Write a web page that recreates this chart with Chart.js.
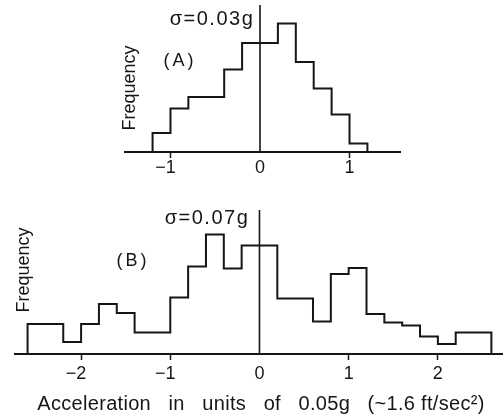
<!DOCTYPE html>
<html><head><meta charset="utf-8">
<script src="https://cdn.jsdelivr.net/npm/chart.js@4"></script>
<style>
html,body{margin:0;padding:0;background:#fff;}
#wrap{position:relative;width:504px;height:418px;overflow:hidden;}
.box{position:absolute;left:0;width:504px;}
</style></head><body>
<div id="wrap">
<div class="box" style="top:0;height:190px"><canvas id="a" width="504" height="190"></canvas></div>
<div class="box" style="top:190px;height:228px"><canvas id="b" width="504" height="228"></canvas></div>
</div>
<script>
// ---- data (acceleration in units of 0.05g; frequency in arbitrary units) ----
const binEdgesA = [-1.2, -1.0, -0.8, -0.6, -0.4, -0.2, 0.0, 0.2, 0.4, 0.6, 0.8, 1.0, 1.2];
const freqA = [3.8, 8.7, 11, 11, 16.5, 21.8, 21.8, 25.7, 18, 12.7, 7.5, 1.7];

const binEdgesB = [-2.6, -2.4, -2.2, -2.0, -1.8, -1.6, -1.4, -1.2, -1.0, -0.8, -0.6, -0.4, -0.2,
                   0.0, 0.2, 0.4, 0.6, 0.8, 1.0, 1.2, 1.4, 1.6, 1.8, 2.0, 2.2, 2.4, 2.6];
const freqB = [6, 6, 2.4, 6, 10, 8.2, 4.3, 4.3, 11.3, 17.5, 23.9, 17.1, 21.7,
               21.7, 11.1, 11.1, 6.5, 16, 17.2, 8, 6.3, 5.7, 3.5, 2, 4.3, 4.3];

const ticksA = [-1, 0, 1];
const ticksB = [-2, -1, 0, 1, 2];

const sigmaA = 'σ=0.03g';
const sigmaB = 'σ=0.07g';
const panelA = '(A)';
const panelB = '(B)';
const yLabel = 'Frequency';
const xLabel = 'Acceleration   in   units   of   0.05g   (~1.6 ft/sec²)';

// ---- drawing ----
const INK = '#161616';
const SANS = 'Liberation Sans';

function stepPoints(edges, vals) {
  const pts = [{x: edges[0], y: 0}];
  vals.forEach((v, i) => pts.push({x: edges[i], y: v}));
  pts.push({x: edges[edges.length - 1], y: 0});
  return pts;
}

function textPlugin(items) {
  return {
    id: 'labels',
    afterDraw(chart) {
      const c = chart.ctx;
      c.save();
      c.fillStyle = INK;
      c.textAlign = 'center';
      c.textBaseline = 'middle';
      for (const t of items) {
        c.font = t.size + 'px "' + SANS + '"';
        c.letterSpacing = (t.ls || 0) + 'px';
        c.save();
        c.translate(t.x, t.y);
        if (t.rot) c.rotate(t.rot);
        c.fillText(t.text, 0, 0);
        c.restore();
      }
      c.restore();
    }
  };
}

function makeChart(id, edges, vals, tickVals, xmin, xmax, ymax, pad, xHeight, tickPad, items) {
  return new Chart(document.getElementById(id), {
    type: 'line',
    data: {
      datasets: [
        {data: stepPoints(edges, vals), stepped: 'before', borderColor: INK, borderWidth: 2,
         pointRadius: 0, fill: false, tension: 0},
        {data: [{x: 0, y: 0}, {x: 0, y: ymax}], borderColor: INK, borderWidth: 1.6,
         pointRadius: 0, fill: false}
      ]
    },
    options: {
      responsive: false,
      animation: false,
      devicePixelRatio: 1,
      layout: {padding: pad},
      plugins: {legend: {display: false}, tooltip: {enabled: false}},
      scales: {
        x: {
          type: 'linear', min: xmin, max: xmax,
          afterBuildTicks: s => { s.ticks = tickVals.map(v => ({value: v})); },
          afterFit: s => { s.height = xHeight; },
          border: {color: INK, width: 2},
          grid: {drawOnChartArea: false, tickLength: 6, tickWidth: 1.5,
                 tickColor: ctx => (ctx.tick && ctx.tick.value === 0) ? 'rgba(0,0,0,0)' : INK},
          ticks: {color: INK, font: {family: SANS, size: 18}, padding: tickPad, maxRotation: 0,
                  autoSkip: false,
                  callback: v => v < 0 ? '−' + Math.abs(v) + '  ' : String(v)},
          title: {display: false}
        },
        y: {display: false, min: 0, max: ymax}
      }
    },
    plugins: [textPlugin(items)]
  });
}

makeChart('a', binEdgesA, freqA, ticksA, -1.508, 1.564, 29.4,
  {left: 125, right: 104, top: 5, bottom: 0}, 38, -1,
  [{text: sigmaA, x: 212, y: 19.5, size: 20, ls: 1.5},
   {text: panelA, x: 180, y: 61.5, size: 18, ls: 3},
   {text: yLabel, x: 130, y: 88, size: 18, rot: -Math.PI / 2}]);

makeChart('b', binEdgesB, freqB, ticksB, -2.741, 2.719, 28.8,
  {left: 15, right: 2, top: 20, bottom: 0}, 64, 3,
  [{text: sigmaB, x: 207, y: 28.5, size: 20, ls: 1.5},
   {text: panelB, x: 133, y: 71.5, size: 18, ls: 3},
   {text: yLabel, x: 24, y: 80, size: 18, rot: -Math.PI / 2},
   {text: xLabel, x: 261, y: 214, size: 20, ls: 0.3}]);
</script>
</body></html>
